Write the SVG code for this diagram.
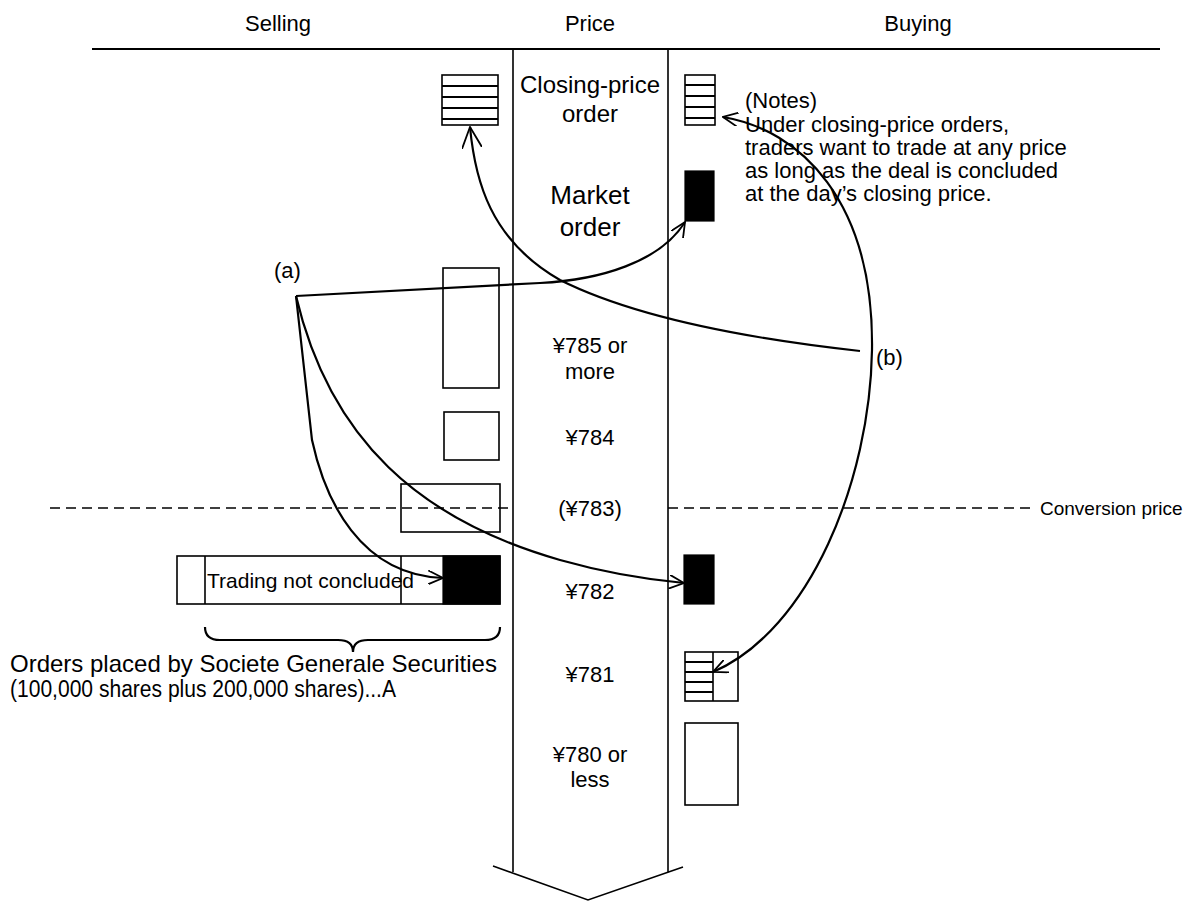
<svg xmlns="http://www.w3.org/2000/svg" width="1200" height="901" viewBox="0 0 1200 901">
<defs>
<style>
text{font-family:"Liberation Sans",Arial,sans-serif;fill:#000}
.h{font-size:22px;text-anchor:middle}
.p{font-size:22px;text-anchor:middle}
.c{font-size:24px;text-anchor:middle}
.m{font-size:26px;text-anchor:middle}
.n{font-size:22px}
.box{fill:none;stroke:#000;stroke-width:1.6}
.blk{fill:#000;stroke:#000;stroke-width:1.2}
.st{stroke:#000;stroke-width:2;fill:none}
.col{stroke:#000;stroke-width:1.6;fill:none}
.con{fill:none;stroke:#000;stroke-width:2.2}
.dash{stroke:#000;stroke-width:1.6;stroke-dasharray:10 6;fill:none}
</style>
<marker id="arr" viewBox="0 0 16 14" refX="15" refY="7" markerWidth="16" markerHeight="14" markerUnits="userSpaceOnUse" orient="auto">
<path d="M0,0 L15,7 L0,14" fill="none" stroke="#000" stroke-width="1.8"/>
</marker>
<marker id="arrL" viewBox="0 0 22 20" refX="21" refY="10" markerWidth="22" markerHeight="20" markerUnits="userSpaceOnUse" orient="auto">
<path d="M0,0 L21,10 L0,20" fill="none" stroke="#000" stroke-width="1.8"/>
</marker>
</defs>
<rect width="1200" height="901" fill="#fff"/>

<g id="header">
<text class="h" x="278" y="31">Selling</text>
<text class="h" x="590" y="31">Price</text>
<text class="h" x="918" y="31">Buying</text>
<line x1="92" y1="49" x2="1160" y2="49" stroke="#000" stroke-width="2"/>
</g>

<g id="price-column">
<path class="col" d="M513,49 V872 M668,49 V872 M493,866 L588,900 L683,867"/>
<text class="c" x="590" y="93">Closing-price</text>
<text class="c" x="590" y="122">order</text>
<text class="m" x="590" y="204">Market</text>
<text class="m" x="590" y="236">order</text>
<text class="p" x="590" y="353">¥785 or</text>
<text class="p" x="590" y="379">more</text>
<text class="p" x="590" y="445">¥784</text>
<text class="p" x="590" y="516">(¥783)</text>
<text class="p" x="590" y="599">¥782</text>
<text class="p" x="590" y="682">¥781</text>
<text class="p" x="590" y="762">¥780 or</text>
<text class="p" x="590" y="787">less</text>
</g>

<g id="conversion-price">
<path class="dash" d="M50,508 H513 M668,508 H1032"/>
<text x="1040" y="515" style="font-size:19px">Conversion price</text>
</g>

<g id="sell-closing">
<rect class="box" x="442" y="75" width="56" height="50"/>
<path class="st" d="M442,86 H498 M442,97 H498 M442,108 H498 M442,119 H498"/>
</g>

<g id="buy-closing">
<rect class="box" x="685" y="75" width="30" height="50"/>
<path class="st" d="M685,85 H715 M685,96 H715 M685,107 H715 M685,118 H715"/>
</g>

<g id="buy-market">
<rect class="blk" x="685" y="171" width="29" height="50"/>
</g>

<g id="sell-785"><rect class="box" x="443" y="268" width="56" height="120"/></g>
<g id="sell-784"><rect class="box" x="444" y="412" width="55" height="48"/></g>
<g id="sell-783"><rect class="box" x="401" y="484" width="99" height="48"/></g>

<g id="sell-782">
<rect class="box" x="177" y="556" width="323" height="48"/>
<path class="col" d="M205,556 V604 M401,556 V604"/>
<rect class="blk" x="443" y="556" width="57" height="48"/>
<text x="207" y="588" style="font-size:21px">Trading not concluded</text>
</g>

<g id="buy-782"><rect class="blk" x="684" y="555" width="30" height="49"/></g>

<g id="buy-781">
<rect class="box" x="685" y="652" width="53" height="49"/>
<path class="col" d="M713,652 V701"/>
<path class="st" d="M685,662 H713 M685,672 H713 M685,682 H713 M685,692 H713"/>
</g>

<g id="buy-780"><rect class="box" x="685" y="723" width="53" height="82"/></g>

<g id="notes">
<text class="n" x="745" y="108">(Notes)</text>
<text class="n" x="745" y="132">Under closing-price orders,</text>
<text class="n" x="745" y="155">traders want to trade at any price</text>
<text class="n" x="745" y="178">as long as the deal is concluded</text>
<text class="n" x="745" y="201">at the day’s closing price.</text>
</g>

<g id="order-a">
<path class="con" d="M205,627 Q205,640 220,640 L338,640 Q353,640 353,652 Q353,640 368,640 L485,640 Q500,640 500,627"/>
<text x="10" y="672" style="font-size:24px">Orders placed by Societe Generale Securities</text>
<text x="10" y="697" style="font-size:23px" textLength="386" lengthAdjust="spacingAndGlyphs">(100,000 shares plus 200,000 shares)...A</text>
</g>

<g id="label-a"><text x="274" y="278" style="font-size:22px">(a)</text></g>
<g id="label-b"><text x="876" y="365" style="font-size:22px">(b)</text></g>

<g id="connectors">
<path class="con" marker-end="url(#arr)" d="M296,296 L540,283 C600,280 660,262 685,222"/>
<path class="con" marker-end="url(#arr)" d="M296,296 C330,440 420,520 560,560 Q620,577 684,583"/>
<path class="con" marker-end="url(#arr)" d="M296,296 L312,440 C325,500 360,575 443,578"/>
<path class="con" marker-end="url(#arrL)" d="M860,351 C760,340 640,320 560,280 C490,240 475,180 470,127"/>
<path class="con" marker-end="url(#arr)" d="M872,350 C870,480 810,630 713,672"/>
<path class="con" marker-end="url(#arr)" d="M872,350 C874,200 800,130 723,117"/>
</g>
</svg>
